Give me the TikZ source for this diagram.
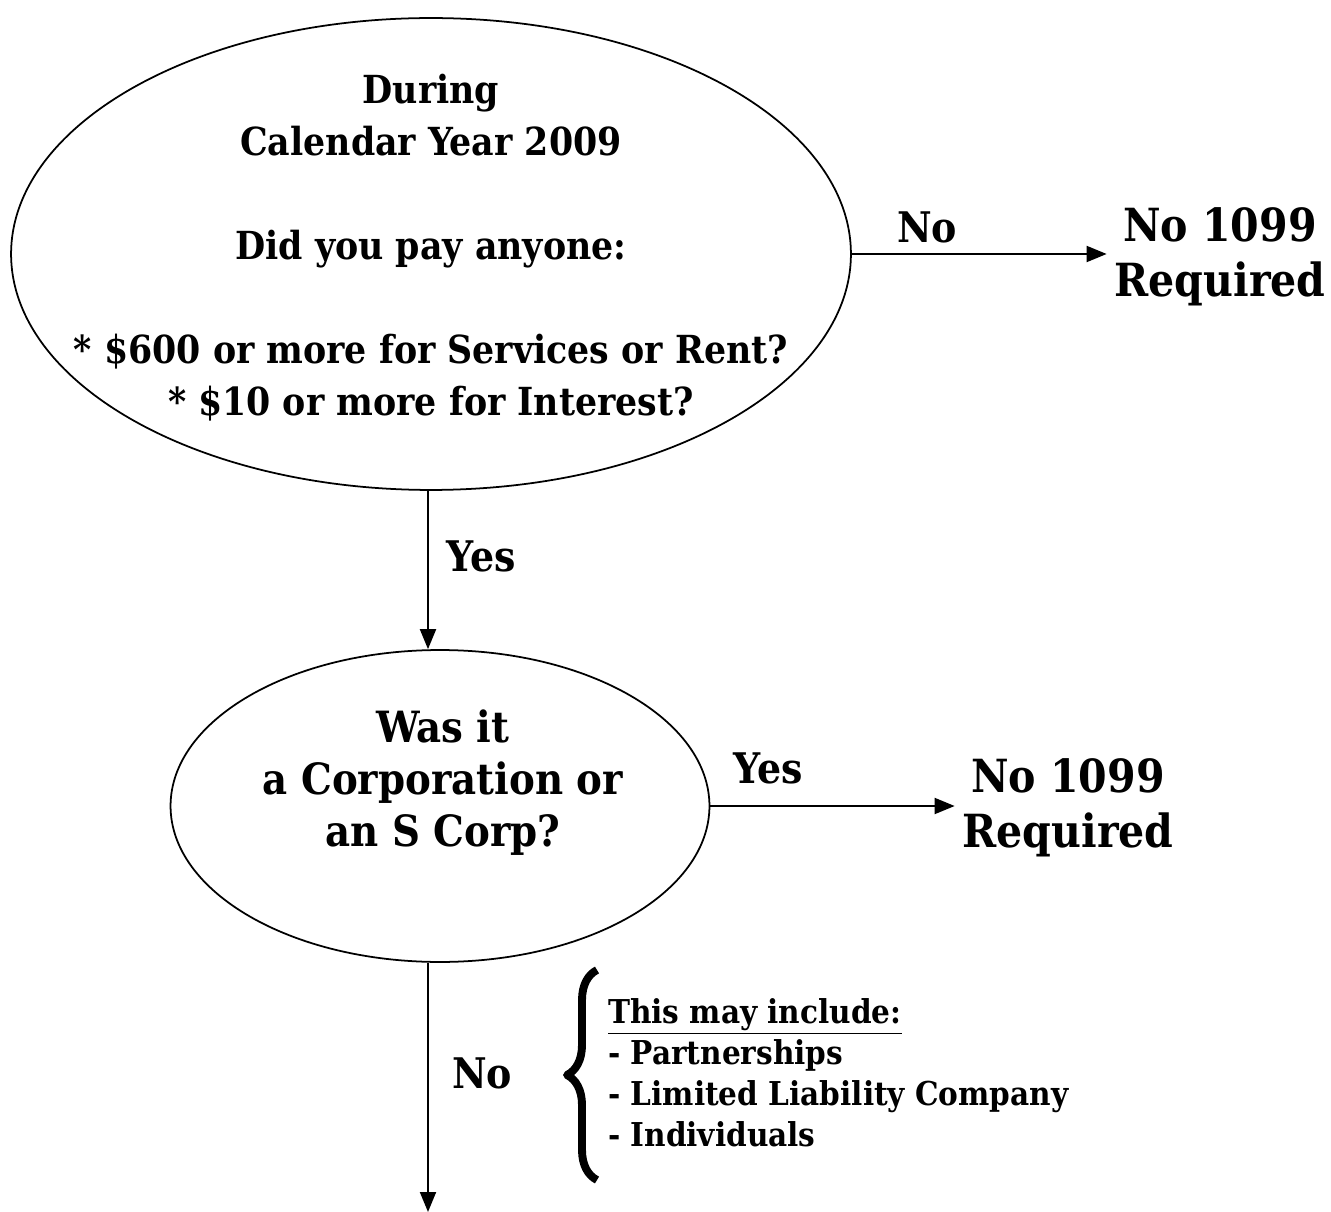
\documentclass[tikz,border=0pt]{standalone}
\usepackage{fontspec}
\setmainfont{DejaVu Serif Condensed}
\usetikzlibrary{shapes.geometric,arrows.meta,decorations.pathreplacing}
\begin{document}
\begin{tikzpicture}[x=0.02cm,y=-0.02cm,line join=round,
	>={Triangle[length=0.4cm,width=0.32cm]},
	oval/.style={draw,ellipse,line width=1pt,inner sep=0pt},
	qtext/.style={align=center,font=\bfseries\fontsize{22}{29.6}\selectfont},
	result/.style={align=center,inner sep=0.15cm,font=\bfseries\fontsize{26}{31}\selectfont},
	answer/.style={font=\bfseries\fontsize{24}{28}\selectfont},
	listtext/.style={align=left,font=\bfseries\fontsize{18.7}{23.3}\selectfont},
	flow/.style={->,line width=1.1pt}]
	\useasboundingbox (0,0) rectangle (1331,1212);
	% first question
	\node[oval,minimum width=16.8cm,minimum height=9.44cm] (year) at (431,254) {};
	\node[qtext] (yeartxt) at (431,248) {During\\Calendar Year 2009\\[29.6pt]Did you pay anyone:\\[29.6pt]* \$600 or more for Services or Rent?\\* \$10 or more for Interest?};
	\node[result] (none1) at (1220,257) {No 1099\\Required};
	% second question
	\node[oval,minimum width=10.78cm,minimum height=6.24cm] (corp) at (440,806) {};
	\node[qtext,font=\bfseries\fontsize{24.5}{29.6}\selectfont] (corptxt) at (443,783) {Was it\\a Corporation or\\an S Corp?};
	\node[result] (none2) at (1068,808) {No 1099\\Required};
	\coordinate (end) at (428,1212);
	% connectors
	\draw[flow] ([xshift=-3*0.02cm]year.south) -- ([xshift=-3*0.02cm]year.south |- corp.north);
	\draw[flow] (year.east) -- (year.east -| none1.west);
	\draw[flow] (corp.east) -- (corp.east -| none2.west);
	\draw[flow] (corp.south -| end) -- (end);
	\node[answer] (no1) at (927,227) {No};
	\node[answer] (yes1) at (481,556) {Yes};
	\node[answer] (yes2) at (768,768) {Yes};
	\node[answer] (no2) at (482,1073) {No};
	% who is included
	\draw[decorate,decoration={brace,amplitude=0.6cm},line width=4.5pt] (597,1180) -- (597,970);
	\node[listtext,anchor=west] (incl) at (602,1073) {\underline{This may include:}\\- Partnerships\\- Limited Liability Company\\- Individuals};
\end{tikzpicture}
\end{document}
